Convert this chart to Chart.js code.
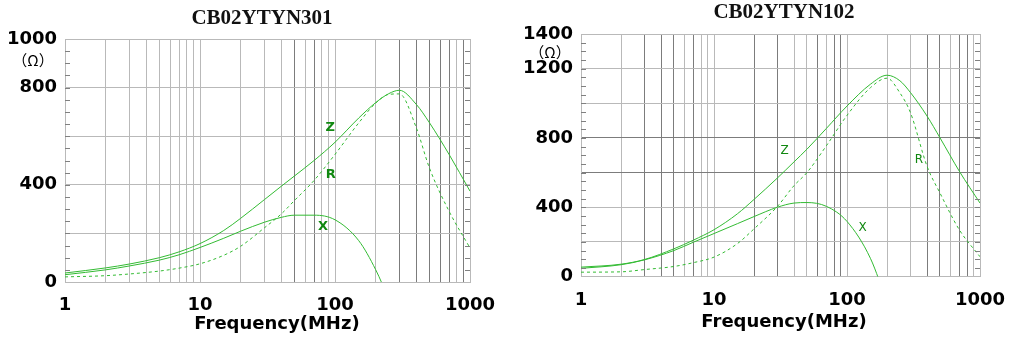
<!DOCTYPE html>
<html>
<head>
<meta charset="utf-8">
<script src="https://cdn.jsdelivr.net/npm/chart.js@4.4.1/dist/chart.umd.min.js"></script>
<style>
  body { margin: 0; background: #fff; width: 1017px; height: 351px; overflow: hidden; position: relative; }
  .box { position: absolute; top: 0; height: 351px; }
</style>
</head>
<body>
<div class="box" style="left:0;width:500px"><canvas id="c301"></canvas></div>
<div class="box" style="left:500px;width:517px"><canvas id="c102"></canvas></div>
<script>
// frequency grid (MHz) and tick values
const freqTicks = [1,2,3,4,5,6,7,8,9,10,20,30,40,50,60,70,80,90,100,200,300,400,500,600,700,800,900,1000];
const freqLabels = [1, 10, 100, 1000];

// CB02YTYN301 impedance curves (ohm)
const freq301 = [1, 2, 3, 5, 7, 10, 15, 20, 30, 40, 50, 70, 100, 150, 200, 250, 300, 400, 500, 700, 1000];
const z301 = [37, 58, 74, 100, 124, 158, 212, 262, 339, 394, 436, 500, 575, 675, 738, 775, 789, 731, 656, 525, 374];
const r301 = [21, 26, 33, 45, 57, 75, 110, 147, 223, 280, 335, 418, 525, 655, 736, 772, 774, 635, 470, 291, 140];
const x301 = [30, 50, 66, 90, 112, 142, 180, 209, 246, 266, 275, 275, 256, 170, 51, -70, null, null, null, null, null];
const yLabels301 = [0, 400, 800, 1000];

// CB02YTYN102 impedance curves (ohm)
const freq102 = [1, 2, 3, 5, 7, 10, 15, 20, 30, 40, 50, 70, 100, 150, 200, 250, 300, 400, 500, 700, 1000];
const z102 = [54, 71, 98, 160, 210, 270, 362, 445, 569, 662, 735, 855, 984, 1110, 1162, 1130, 1062, 926, 801, 607, 424];
const r102 = [25, 27, 40, 58, 80, 112, 190, 275, 405, 525, 600, 755, 930, 1090, 1145, 1060, 946, 636, 482, 269, 114];
const x102 = [47, 68, 96, 150, 198, 248, 305, 346, 400, 424, 427, 405, 318, 105, -150, null, null, null, null, null, null];
const yLabels102 = [0, 400, 800, 1200, 1400];

const LINE = '#33bb33';
const GRID = '#b9b9b9';
const GRID_DARK = '#7c7c7c';

function pts(freq, vals) {
    return freq.map((f, i) => ({ x: f, y: vals[i] })).filter(p => p.y !== null);
}

// draws title, ohm unit, axis title, inner minor ticks and Z/R/X tags
const overlay = {
    id: 'overlay',
    afterDraw(chart, args, o) {
        const ctx = chart.ctx;
        const xs = chart.scales.x, ys = chart.scales.y;
        const a = chart.chartArea;
        ctx.save();
        // minor ticks every 50 ohm, inside both edges
        ctx.strokeStyle = '#808080';
        ctx.lineWidth = 1;
        for (let v = 50; v < ys.max; v += 50) {
            const y = Math.round(ys.getPixelForValue(v)) + 0.5;
            ctx.beginPath();
            ctx.moveTo(a.left, y); ctx.lineTo(a.left + 5, y);
            ctx.moveTo(a.right - 5, y); ctx.lineTo(a.right, y);
            ctx.stroke();
        }
        ctx.textAlign = 'center';
        ctx.textBaseline = 'middle';
        ctx.fillStyle = '#111';
        ctx.font = 'bold 21px "Liberation Serif"';
        ctx.fillText(o.title, o.titleX, o.titleY);
        ctx.font = '15px "Noto Sans CJK SC"';
        ctx.fillStyle = '#000';
        ctx.fillText('（Ω）', o.omegaX, o.omegaY);
        ctx.font = 'bold 18px "DejaVu Sans"';
        ctx.fillText('Frequency(MHz)', o.axisX, o.axisY);
        ctx.fillStyle = '#118811';
        ctx.font = o.tagFont;
        o.tags.forEach(t => {
            ctx.fillText(t.t, xs.getPixelForValue(t.f), ys.getPixelForValue(t.v));
        });
        ctx.restore();
    }
};

function makeChart(id, c) {
    const ds = (data, dash) => ({
        data: data,
        borderColor: LINE,
        borderWidth: 1,
        borderDash: dash,
        pointRadius: 0,
        cubicInterpolationMode: 'monotone',
        fill: false
    });
    return new Chart(document.getElementById(id), {
        type: 'line',
        data: {
            datasets: [
                ds(pts(c.freq, c.z), []),
                ds(pts(c.freq, c.r), [3, 3]),
                ds(pts(c.freq, c.x), [])
            ]
        },
        plugins: [overlay],
        options: {
            responsive: true,
            maintainAspectRatio: false,
            animation: false,
            layout: { padding: { top: c.top, right: c.right, left: 0, bottom: 0 } },
            plugins: {
                legend: { display: false },
                tooltip: { enabled: false },
                overlay: c.overlay
            },
            scales: {
                x: {
                    type: 'logarithmic',
                    min: 1,
                    max: 1000,
                    afterBuildTicks: s => { s.ticks = freqTicks.map(v => ({ value: v })); },
                    afterFit: s => { s.height = c.xHeight; s.paddingLeft = 0; s.paddingRight = 0; },
                    ticks: {
                        autoSkip: false,
                        maxRotation: 0,
                        padding: 13,
                        color: '#000',
                        font: { family: 'DejaVu Sans', weight: 'bold', size: 18 },
                        callback: v => freqLabels.includes(v) ? String(v) : ''
                    },
                    grid: {
                        drawTicks: false,
                        color: g => c.darkX.includes(g.tick && g.tick.value) ? GRID_DARK : GRID
                    },
                    border: { color: GRID }
                },
                y: {
                    min: 0,
                    max: c.yMax,
                    afterFit: s => { s.width = c.left; },
                    ticks: {
                        stepSize: 200,
                        autoSkip: false,
                        padding: 8,
                        color: '#000',
                        font: { family: 'DejaVu Sans', weight: 'bold', size: 18 },
                        callback: v => c.yLabels.includes(v) ? String(v) : ''
                    },
                    grid: {
                        drawTicks: false,
                        color: g => c.darkY.includes(g.tick && g.tick.value) ? GRID_DARK : GRID
                    },
                    border: { color: GRID }
                }
            }
        }
    });
}

makeChart('c301', {
    freq: freq301, z: z301, r: r301, x: x301,
    yMax: 1000, yLabels: yLabels301,
    left: 65, right: 30, top: 39, xHeight: 69,
    darkX: [50, 70, 300, 400, 500, 600, 700, 900],
    darkY: [],
    overlay: {
        title: 'CB02YTYN301', titleX: 262, titleY: 19,
        omegaX: 33, omegaY: 60,
        axisX: 277, axisY: 324,
        tagFont: 'bold 13px "DejaVu Sans"',
        tags: [{ t: 'Z', f: 92, v: 635 }, { t: 'R', f: 93, v: 441 }, { t: 'X', f: 81.5, v: 227 }]
    }
});

makeChart('c102', {
    freq: freq102, z: z102, r: r102, x: x102,
    yMax: 1400, yLabels: yLabels102,
    left: 81, right: 37, top: 34, xHeight: 74.5,
    darkX: [3, 4, 5, 7, 20, 30, 60, 80, 90, 400, 500, 700, 800],
    darkY: [600, 800],
    overlay: {
        title: 'CB02YTYN102', titleX: 284, titleY: 13,
        omegaX: 50, omegaY: 52,
        axisX: 284, axisY: 322,
        tagFont: '12px "DejaVu Sans"',
        tags: [{ t: 'Z', f: 34, v: 723 }, { t: 'R', f: 348, v: 676 }, { t: 'X', f: 131, v: 282 }]
    }
});
</script>
</body>
</html>
